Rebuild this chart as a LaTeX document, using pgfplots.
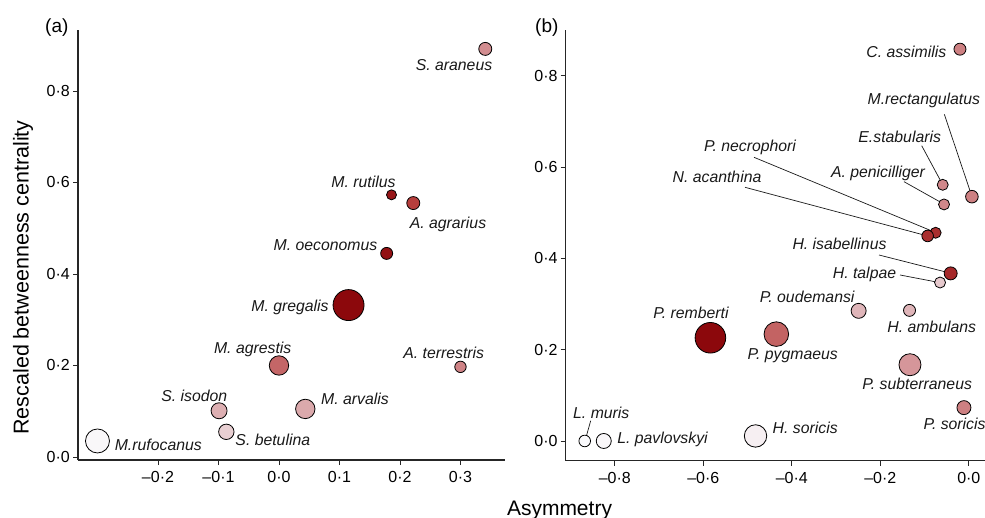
\documentclass[border=0pt]{standalone}
\usepackage{fontspec}
\setmainfont{Liberation Sans}
\usepackage{pgfplots}
\pgfplotsset{compat=1.18}
\pgfplotsset{
  colormap={redmap}{rgb255(0cm)=(250,250,252) rgb255(1cm)=(228,196,200) rgb255(2cm)=(208,135,138) rgb255(3cm)=(182,62,60) rgb255(4cm)=(140,8,12)},
  myaxis/.style={
    scale only axis, anchor=south west, clip=false,
    axis x line*=bottom, axis y line*=left,
    axis line style={line width=1.3pt, black!85},
    tick style={line width=0.8pt, black!85},
    major tick length=5pt, tick align=outside,
    ticklabel style={font=\fontsize{16}{16}\selectfont, inner sep=0pt},
    yticklabel style={anchor=east, xshift=-3pt},
    xticklabel style={anchor=north, yshift=-6pt},
    ytick={0,0.2,0.4,0.6,0.8},
    yticklabels={0·0,0·2,0·4,0·6,0·8},
    colormap name=redmap, point meta min=0, point meta max=4,
  },
  bub/.style={scatter, only marks, mark=*, scatter src=explicit,
    scatter/use mapped color={draw=black, fill=mapped color},
    mark options={line width=0.8pt},
    visualization depends on={\thisrow{r} \as \rad},
    scatter/@pre marker code/.append style={/tikz/mark size=\rad pt}},
}
\pgfplotstableread{
x y r c
0.341 0.892 6.5 1.9
0.186 0.573 5.0 3.75
0.222 0.555 6.5 3.0
0.178 0.445 6.0 3.85
0.115 0.332 15.5 4.0
0.000 0.200 9.7 2.45
0.300 0.197 5.7 2.05
-0.099 0.101 8.0 1.35
0.0435 0.105 9.7 1.45
-0.087 0.055 7.7 0.8
-0.300 0.035 12.0 0.05
}\lefttab
\pgfplotstableread{
x y r c
-0.020 0.858 6.0 2.1
0.007 0.535 6.3 2.1
-0.059 0.561 5.5 2.0
-0.056 0.518 5.5 2.0
-0.075 0.456 5.5 3.3
-0.093 0.449 5.8 3.3
-0.041 0.367 6.5 3.4
-0.065 0.347 5.5 0.9
-0.249 0.285 7.5 1.25
-0.134 0.286 6.0 1.25
-0.584 0.226 15.3 4.0
-0.435 0.234 12.3 2.5
-0.133 0.167 11.0 1.75
-0.011 0.073 7.0 2.1
-0.482 0.011 11.2 0.2
-0.868 0.000 5.8 0.0
-0.825 0.000 7.5 0.05
}\righttab
\begin{document}
\begin{tikzpicture}[x=1pt,y=1pt]
\useasboundingbox (0,0) rectangle (985,517);
% leader lines (drawn first, under the bubbles)
\begin{scope}[line width=0.7pt, black!90]
\draw (944.3,402.7) -- (972,320.3);
\draw (921.7,371.3) -- (942.7,332.3);
\draw (904,335.3) -- (944.3,312.7);
\draw (754,359.7) -- (936,284.3);
\draw (745,329.7) -- (927.7,281);
\draw (879,262) -- (951,243.7);
\draw (900,242) -- (940.3,234.3);
\draw (590.7,96.3) -- (585,76);
\end{scope}
\begin{axis}[myaxis, at={(78pt,57pt)}, width=427pt, height=430pt,
  xmin=-0.3322, xmax=0.3736, ymin=-0.0066, ymax=0.9333,
  xtick={-0.2,-0.1,0,0.1,0.2,0.3},
  xticklabels={–0·2,–0·1,0·0,0·1,0·2,0·3}]
\addplot[bub] table[x=x,y=y,meta=c] {\lefttab};
\end{axis}
\begin{axis}[myaxis, at={(565.7pt,56.3pt)}, width=423.2pt, height=430.7pt,
  xmin=-0.911, xmax=0.0454, ymin=-0.0432, ymax=0.900,
  xtick={-0.8,-0.6,-0.4,-0.2,0},
  xticklabels={–0·8,–0·6,–0·4,–0·2,0·0}]
\addplot[bub] table[x=x,y=y,meta=c] {\righttab};
\end{axis}
% species labels
\begin{scope}[every node/.style={font=\fontsize{15.8}{16}\selectfont\itshape, inner sep=0pt, anchor=base, text=black!90}]
\node at (454,446.5) {S. araneus};
\node at (363.5,329.5) {M. rutilus};
\node at (448,288.5) {A. agrarius};
\node at (325.5,266.5) {M. oeconomus};
\node at (290,205.8) {M. gregalis};
\node at (252.7,163.8) {M. agrestis};
\node at (443.7,158.8) {A. terrestris};
\node at (194.3,115.8) {S. isodon};
\node at (355,112.2) {M. arvalis};
\node at (272.8,71.2) {S. betulina};
\node at (158.3,66.5) {M.rufocanus};
\node at (906.3,459.8) {C. assimilis};
\node at (923.8,412.5) {M.rectangulatus};
\node at (899.7,374.8) {E.stabularis};
\node at (878,339.2) {A. penicilliger};
\node at (750,365.8) {P. necrophori};
\node at (717,334.8) {N. acanthina};
\node at (839.5,267.5) {H. isabellinus};
\node at (864.5,238.2) {H. talpae};
\node at (807.2,214.8) {P. oudemansi};
\node at (931.7,184.8) {H. ambulans};
\node at (691,198.2) {P. remberti};
\node at (792.7,157.2) {P. pygmaeus};
\node at (917.2,127.5) {P. subterraneus};
\node[anchor=base west] at (923.3,87.2) {P. soricis};
\node at (805.2,83.2) {H. soricis};
\node at (601.3,98.2) {L. muris};
\node at (662.5,73.2) {L. pavlovskyi};
\end{scope}
% panel and axis labels
\node[font=\fontsize{19}{19}\selectfont, inner sep=0pt] at (56.8,489.5) {(a)};
\node[font=\fontsize{19}{19}\selectfont, inner sep=0pt] at (546.8,489.5) {(b)};
\node[font=\fontsize{21.5}{22}\selectfont, inner sep=0pt, rotate=90] at (23,239.5) {Rescaled betweenness centrality};
\node[font=\fontsize{21}{22}\selectfont, inner sep=0pt, anchor=base] at (559.5,1.3) {Asymmetry};
\end{tikzpicture}
\end{document}
